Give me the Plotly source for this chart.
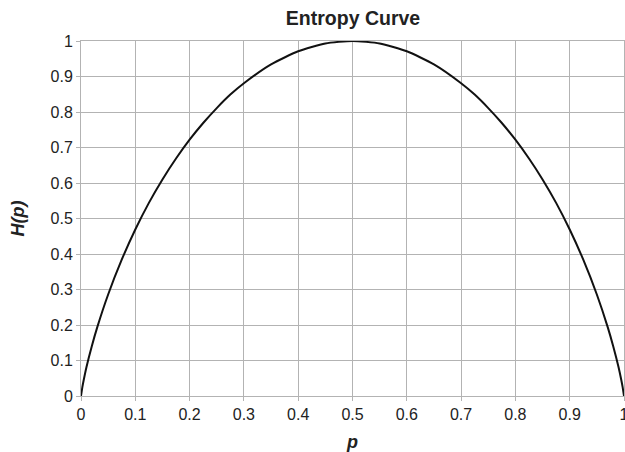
import plotly.graph_objects as go

# Values (binary entropy curve)
p_vals = [0, 0.0025, 0.005, 0.01, 0.02, 0.03, 0.05, 0.075, 0.1, 0.125, 0.15, 0.175, 0.2,
          0.225, 0.25, 0.275, 0.3, 0.35, 0.4, 0.45, 0.5,
          0.55, 0.6, 0.65, 0.7, 0.725, 0.75, 0.775, 0.8, 0.825, 0.85, 0.875, 0.9,
          0.925, 0.95, 0.97, 0.98, 0.99, 0.995, 0.9975, 1]
h_vals = [0, 0.025, 0.045, 0.081, 0.141, 0.194, 0.286, 0.384, 0.469, 0.544, 0.610, 0.669, 0.722,
          0.769, 0.811, 0.849, 0.881, 0.934, 0.971, 0.993, 1.0,
          0.993, 0.971, 0.934, 0.881, 0.849, 0.811, 0.769, 0.722, 0.669, 0.610, 0.544, 0.469,
          0.384, 0.286, 0.194, 0.141, 0.081, 0.045, 0.025, 0]

x_ticks = [0, 0.1, 0.2, 0.3, 0.4, 0.5, 0.6, 0.7, 0.8, 0.9, 1]
x_labels = ["0", "0.1", "0.2", "0.3", "0.4", "0.5", "0.6", "0.7", "0.8", "0.9", "1"]
y_ticks = [0, 0.1, 0.2, 0.3, 0.4, 0.5, 0.6, 0.7, 0.8, 0.9, 1]
y_labels = ["0", "0.1", "0.2", "0.3", "0.4", "0.5", "0.6", "0.7", "0.8", "0.9", "1"]

grid = "#b3b3b3"
font = "Liberation Sans, Arial, sans-serif"

fig = go.Figure()
fig.add_trace(go.Scatter(x=p_vals, y=h_vals, mode="lines",
                         line=dict(color="#111111", width=2, shape="spline", smoothing=0.6),
                         showlegend=False, hoverinfo="skip"))

fig.update_layout(
    width=625, height=452,
    margin=dict(l=81, r=1, t=41, b=56),
    paper_bgcolor="white", plot_bgcolor="white",
    title=dict(text="<b>Entropy Curve</b>", x=353 / 625, xanchor="center",
               y=1 - 18 / 452, yanchor="middle",
               font=dict(family=font, size=19.5, color="#222222")),
    font=dict(family=font, size=16, color="#222222"),
)
fig.update_xaxes(
    range=[0, 1], tickvals=x_ticks, ticktext=x_labels,
    showgrid=True, gridcolor=grid, gridwidth=1,
    showline=True, linecolor=grid, linewidth=1, mirror=True,
    ticks="outside", ticklen=4, tickcolor=grid,
    zeroline=False, automargin=False, ticklabeloverflow="allow",
    tickfont=dict(family=font, size=16, color="#222222"),
    title=dict(text="<b><i>p</i></b>", standoff=14,
               font=dict(family=font, size=18, color="#222222")),
)
fig.update_yaxes(
    range=[0, 1], tickvals=y_ticks, ticktext=y_labels,
    showgrid=True, gridcolor=grid, gridwidth=1,
    showline=True, linecolor=grid, linewidth=1, mirror=True,
    ticks="outside", ticklen=4, tickcolor=grid,
    zeroline=False, automargin=False, ticklabeloverflow="allow",
    tickfont=dict(family=font, size=16, color="#222222"),
    title=dict(text="<b><i>H(p)</i></b>", standoff=21,
               font=dict(family=font, size=18, color="#222222")),
)

fig.write_html(
    "out.html",
    config={"displayModeBar": False},
    post_script="document.body.style.margin='0';document.body.style.overflow='hidden';",
)
